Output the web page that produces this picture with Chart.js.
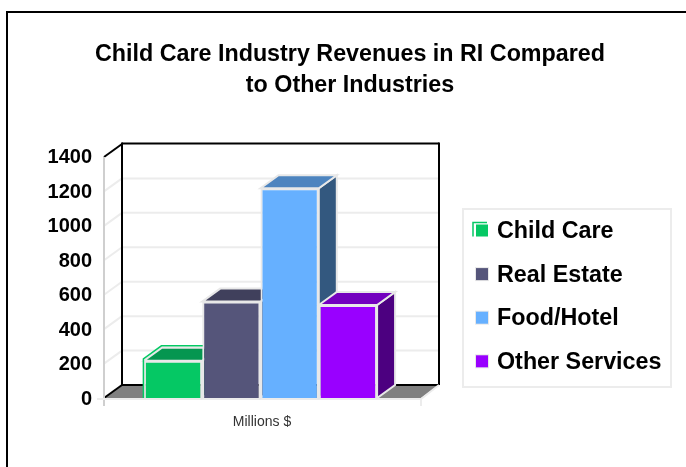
<!DOCTYPE html>
<html><head><meta charset="utf-8">
<style>html,body{margin:0;padding:0;background:#fff}canvas{display:block}</style>
<script src="https://cdn.jsdelivr.net/npm/chart.js@4"></script></head>
<body><div style="width:686px;height:467px"><canvas id="c" width="686" height="467"></canvas></div>
<script>
const categories = ["Millions $"];
const seriesNames = ["Child Care", "Real Estate", "Food/Hotel", "Other Services"];
const childCare = [216];
const realEstate = [560];
const foodHotel = [1218];
const otherServices = [540];
const frontColors = ["#05c864", "#55557a", "#66b0ff", "#9900ff"];
const topColors = ["#059650", "#40405c", "#4d84bf", "#7300bf"];
const sideColors = ["#037040", "#2a2a40", "#33587f", "#4c0080"];
const titleLines = ["Child Care Industry Revenues in RI Compared", "to Other Industries"];
const DX = 18, DY = 13;
const seriesValues = [childCare, realEstate, foodHotel, otherServices];

function poly(ctx, pts, fill, stroke, lw) {
  ctx.beginPath();
  pts.forEach((p, i) => i ? ctx.lineTo(p[0], p[1]) : ctx.moveTo(p[0], p[1]));
  ctx.closePath();
  if (fill) { ctx.fillStyle = fill; ctx.fill(); }
  if (stroke) { ctx.strokeStyle = stroke; ctx.lineWidth = lw || 1; ctx.stroke(); }
}
function line(ctx, x1, y1, x2, y2, c, lw) {
  ctx.beginPath(); ctx.moveTo(x1, y1); ctx.lineTo(x2, y2);
  ctx.strokeStyle = c; ctx.lineWidth = lw; ctx.stroke();
}
const scene = {
  id: "scene",
  beforeInit(chart) {
    // reserves the room of the legend without narrowing the title
    Chart.layouts.addBox(chart, {
      position: "right", fullSize: false, weight: 0, options: {},
      update(w, h) { this.width = 265; this.height = h; },
      isHorizontal() { return false; },
      draw() {}
    });
  },
  beforeDatasetsDraw(chart) {
    const ctx = chart.ctx, y = chart.scales.y, a = chart.chartArea;
    const L = a.left, R = a.right + 4, T = y.getPixelForValue(1400), B = y.getPixelForValue(0);
    ctx.save();
    // outer frame: top and left only
    line(ctx, 7, 12, 686, 12, "#000", 2);
    line(ctx, 7, 11, 7, 467, "#000", 2);
    // gridlines
    y.ticks.forEach(t => {
      const py = y.getPixelForValue(t.value);
      if (t.value > 0 && t.value < 1400) {
        line(ctx, L, py, L + DX, py - DY, "#ececec", 2);
        line(ctx, L + DX, py - DY, R + DX, py - DY, "#ececec", 2);
      }
    });
    // floor
    poly(ctx, [[L, B], [L + DX, B - DY], [R + DX, B - DY], [R, B]], "#808080");
    // wall frame
    line(ctx, L + DX, T - DY - 0.5, R + DX, T - DY - 0.5, "#000", 2);
    line(ctx, L + DX, T - DY - 1.5, L + DX, B - DY, "#000", 2);
    line(ctx, R + DX, T - DY - 1.5, R + DX, B - DY, "#000", 2);
    line(ctx, L + DX, B - DY, R + DX, B - DY, "#000", 2);
    line(ctx, L, T, L + DX, T - DY, "#000", 2);
    line(ctx, L, B, L + DX, B - DY, "#000", 2);
    // front axes
    line(ctx, L, T, L, B + 8, "#cfcfcf", 2);
    line(ctx, L - 7, B + 1, R, B + 1, "#ececec", 2);
    line(ctx, R, B + 1, R, B + 8, "#ececec", 2);
    line(ctx, R, B + 1, R + DX, B - DY, "#ececec", 2);
    // 3D faces of the bars
    chart.data.datasets.forEach((ds, i) => {
      const b = chart.getDatasetMeta(i).data[0];
      const l = b.x - b.width / 2, r = b.x + b.width / 2, t = b.y, bo = b.base;
      poly(ctx, [[r, t], [r + DX, t - DY], [r + DX, bo - DY], [r, bo]], sideColors[i], "#e8e8e8", 2);
      poly(ctx, [[l, t], [l + DX, t - DY], [r + DX, t - DY], [r, t]], topColors[i], "#e8e8e8", 2);
    });
    ctx.restore();
  },
  afterDatasetsDraw(chart) {
    // the green bar carries an extra offset outline
    const ctx = chart.ctx, b = chart.getDatasetMeta(0).data[0];
    const l = b.x - b.width / 2, r = b.x + b.width / 2, t = b.y;
    ctx.save();
    ctx.beginPath();
    ctx.moveTo(l - 0.5, b.base); ctx.lineTo(l - 0.5, t - 2); ctx.lineTo(l + DX - 0.5, t - DY - 2); ctx.lineTo(r + 0.5, t - DY - 2);
    ctx.strokeStyle = frontColors[0]; ctx.lineWidth = 1.5; ctx.stroke();
    ctx.restore();
  },
  afterDraw(chart) {
    const ctx = chart.ctx;
    ctx.save();
    // legend
    ctx.fillStyle = "#fff"; ctx.strokeStyle = "#ececec"; ctx.lineWidth = 2;
    ctx.fillRect(463, 209, 208, 178); ctx.strokeRect(463, 209, 208, 178);
    ctx.textBaseline = "middle"; ctx.textAlign = "left";
    ctx.font = "bold 23.3px 'Liberation Sans'";
    seriesNames.forEach((n, i) => {
      const cy = 230.5 + i * 43.6, bx = 476, s = 12;
      if (i === 0) {
        ctx.strokeStyle = frontColors[0]; ctx.lineWidth = 1.5;
        ctx.beginPath(); ctx.moveTo(473, cy + 6); ctx.lineTo(473, cy - 8); ctx.lineTo(487, cy - 8); ctx.stroke();
      } else {
        ctx.strokeStyle = "#e8e8e8"; ctx.lineWidth = 2;
        ctx.strokeRect(bx, cy - 6, s, s);
      }
      ctx.fillStyle = frontColors[i];
      ctx.fillRect(bx, cy - 6, s, s);
      ctx.fillStyle = "#000";
      ctx.fillText(n, 497, cy + 1);
    });
    ctx.restore();
  }
};
new Chart(document.getElementById("c"), {
  type: "bar",
  data: {
    labels: categories,
    datasets: seriesNames.map((n, i) => ({
      label: n, data: seriesValues[i],
      backgroundColor: frontColors[i], borderColor: "#e8e8e8", borderWidth: 2
    }))
  },
  plugins: [scene],
  options: {
    responsive: false, animation: false, devicePixelRatio: 1,
    layout: { padding: { left: 18, right: 4, top: 0, bottom: 34 } },
    datasets: { bar: { categoryPercentage: 0.745, barPercentage: 1 } },
    plugins: {
      legend: { display: false }, tooltip: { enabled: false },
      title: { display: true, text: titleLines, color: "#000", align: "center",
        font: { family: "'Liberation Sans'", size: 23.3, weight: "bold", lineHeight: 1.33 },
        padding: { top: 39, bottom: 56 } }
    },
    scales: {
      x: { grid: { display: false }, border: { display: false },
        ticks: { color: "#333", font: { family: "'Liberation Sans'", size: 14 }, padding: 8, labelOffset: 1.5 },
        afterFit(s) { s.height = 35; } },
      y: { min: 0, max: 1400, grid: { display: false }, border: { display: false },
        ticks: { stepSize: 200, color: "#000", padding: 4, labelOffset: 1, format: { useGrouping: false },
          font: { family: "'Liberation Sans'", size: 20, weight: "bold" } },
        afterFit(s) { s.width = 86; } }
    }
  }
});
</script></body></html>
